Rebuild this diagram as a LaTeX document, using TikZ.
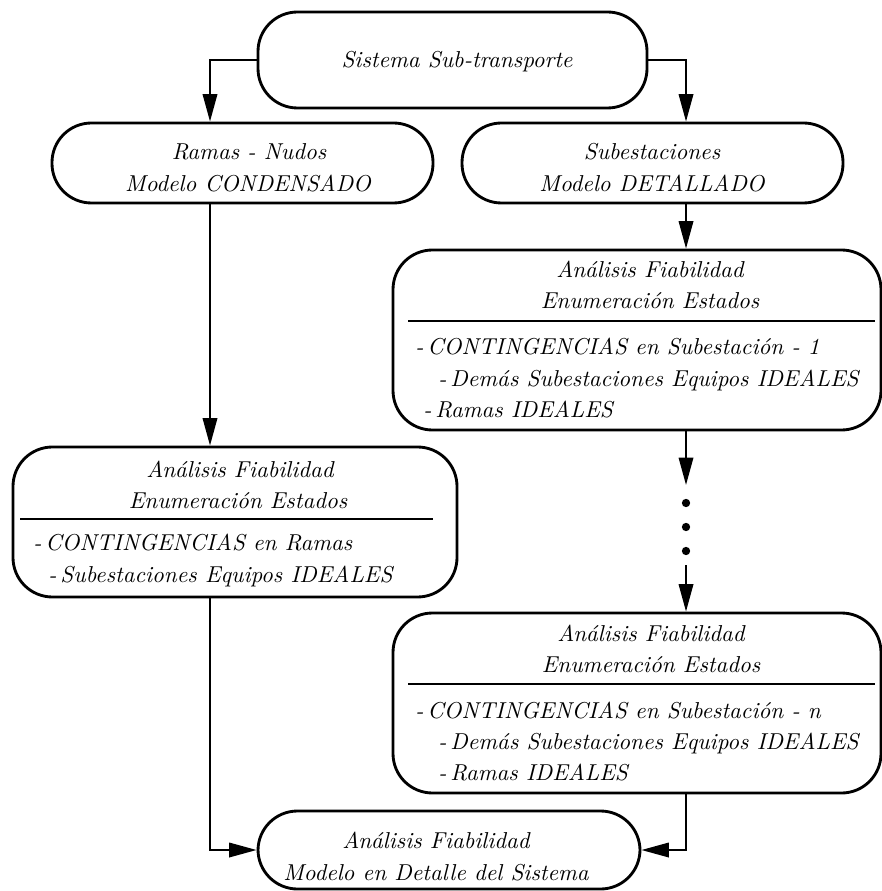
\documentclass[tikz,border=0pt]{standalone}
\usepackage{fontspec}
\usetikzlibrary{arrows.meta,fit}
\newlength{\pxu}
\setlength{\pxu}{0.4566pt}
\begin{document}
\begin{tikzpicture}[
  x=\pxu, y=-\pxu,
  box/.style={draw, line width=1.3pt, rounded corners=18pt, inner sep=0pt},
  txt/.style={font=\fontsize{10.5pt}{13pt}\selectfont\itshape, inner sep=0pt, anchor=base},
  item/.style={txt, anchor=base west},
  conn/.style={line width=0.9pt},
  arr/.style={conn, -{Triangle[length=12.5pt,width=6.6pt]}},
  sep/.style={line width=0.9pt},
  dotmark/.style={circle, fill, inner sep=0pt, minimum size=3.8pt}
]
\useasboundingbox (0,0) rectangle (881,891);

% columns used by the connectors
\coordinate (colL) at (210,0);
\coordinate (colR) at (686,0);

% boxes
\node[box, fit={(258,12) (647,108)}] (top) {};
\node[box, fit={(52,123) (433,203)}] (ramas) {};
\node[box, fit={(462,123) (843,203)}] (sub) {};
\node[box, fit={(393,250) (881,430)}] (r1) {};
\node[box, fit={(13,447) (457,597)}] (lbox) {};
\node[box, fit={(393,613) (881,793)}] (r2) {};
\node[box, fit={(258,811) (640,889)}] (bot) {};

% top box
\node[txt] (topT) at (457,68) {Sistema Sub-transporte};

% condensed model
\node[txt] (ramasA) at (249,160) {Ramas - Nudos};
\node[txt] (ramasB) at (248,192) {Modelo CONDENSADO};

% detailed model
\node[txt] (subA) at (652,160) {Subestaciones};
\node[txt] (subB) at (652,192) {Modelo DETALLADO};

% first substation analysis
\node[txt] (r1A) at (650,278) {Análisis Fiabilidad};
\node[txt] (r1B) at (650,309) {Enumeración Estados};
\draw[sep] (408,321) -- (875,321);
\node[item] (r1C) at (415,355) {-\,CONTINGENCIAS en Subestación - 1};
\node[item] (r1D) at (438,386) {-\,Demás Subestaciones Equipos IDEALES};
\node[item] (r1E) at (423,417) {-\,Ramas IDEALES};

% branch analysis
\node[txt] (lA) at (240,477) {Análisis Fiabilidad};
\node[txt] (lB) at (238,508) {Enumeración Estados};
\draw[sep] (20,519) -- (433,519);
\node[item] (lC) at (33,550) {-\,CONTINGENCIAS en Ramas};
\node[item] (lD) at (48,582) {-\,Subestaciones Equipos IDEALES};

% n-th substation analysis
\node[txt] (r2A) at (651,641) {Análisis Fiabilidad};
\node[txt] (r2B) at (651,672) {Enumeración Estados};
\draw[sep] (408,684) -- (875,684);
\node[item] (r2C) at (415,718) {-\,CONTINGENCIAS en Subestación - n};
\node[item] (r2D) at (438,749) {-\,Demás Subestaciones Equipos IDEALES};
\node[item] (r2E) at (438,780) {-\,Ramas IDEALES};

% final analysis
\node[txt] (botA) at (436,848) {Análisis Fiabilidad};
\node[txt] (botB) at (436,880) {Modelo en Detalle del Sistema};

% dots between the substation analyses
\coordinate (dTip) at (686,485);
\coordinate (dStart) at (686,565);
\node[dotmark] (dot1) at (686,503) {};
\node[dotmark] (dot2) at (686,527) {};
\node[dotmark] (dot3) at (686,551) {};

% connectors
\draw[arr] (top.west) -| (colL |- ramas.north);
\draw[arr] (top.east) -| (colR |- sub.north);
\draw[arr] (colL |- ramas.south) -- (colL |- lbox.north);
\draw[arr] (colR |- sub.south) -- (colR |- r1.north);
\draw[arr] (colR |- r1.south) -- (dTip);
\draw[arr] (dStart) -- (colR |- r2.north);
\draw[arr] (colL |- lbox.south) |- (bot.west);
\draw[arr] (colR |- r2.south) |- (bot.east);
\end{tikzpicture}
\end{document}
